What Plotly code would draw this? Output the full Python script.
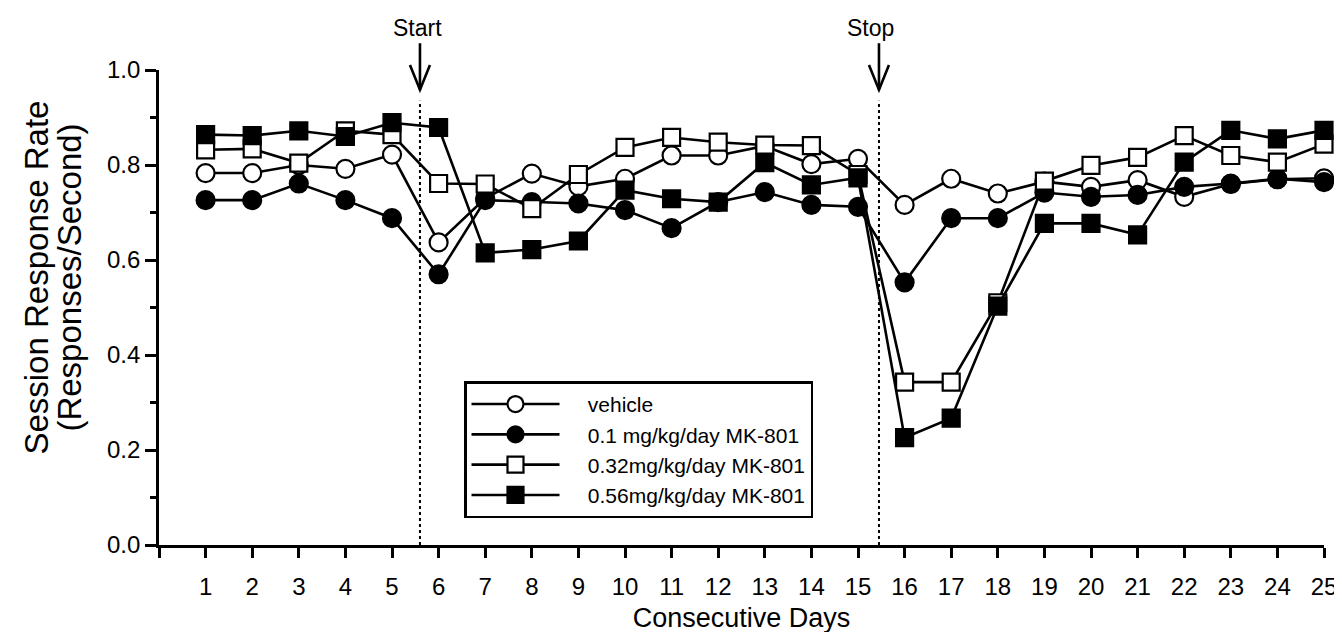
import plotly.graph_objects as go

days = list(range(1, 26))
vehicle = [0.783, 0.783, 0.80, 0.792, 0.822, 0.637, 0.73, 0.782, 0.755, 0.771, 0.82, 0.82, 0.84,
           0.802, 0.813, 0.716, 0.771, 0.740, 0.765, 0.754, 0.768, 0.733, 0.76, 0.77, 0.772]
mk_01 = [0.726, 0.726, 0.761, 0.726, 0.688, 0.57, 0.726, 0.722, 0.719, 0.705, 0.667, 0.722, 0.743,
         0.716, 0.712, 0.553, 0.688, 0.688, 0.742, 0.733, 0.737, 0.754, 0.761, 0.771, 0.764]
mk_032 = [0.832, 0.834, 0.804, 0.872, 0.864, 0.761, 0.76, 0.708, 0.78, 0.837, 0.858, 0.848, 0.842,
          0.841, 0.78, 0.343, 0.343, 0.51, 0.766, 0.799, 0.816, 0.862, 0.82, 0.806, 0.844]
mk_056 = [0.864, 0.862, 0.872, 0.86, 0.889, 0.879, 0.615, 0.622, 0.64, 0.747, 0.729, 0.722, 0.805,
          0.758, 0.773, 0.226, 0.267, 0.503, 0.677, 0.677, 0.653, 0.806, 0.873, 0.855, 0.873]

names = ["vehicle", "0.1 mg/kg/day MK-801", "0.32mg/kg/day MK-801", "0.56mg/kg/day MK-801"]
symbols = ["circle", "circle", "square", "square"]
fills = ["white", "black", "white", "black"]
series = [vehicle, mk_01, mk_032, mk_056]

x_ticks = list(range(0, 26))
x_ticktext = [""] + [str(d) for d in days]
y_ticks = [0, 0.2, 0.4, 0.6, 0.8, 1.0]
y_ticktext = ["0.0", "0.2", "0.4", "0.6", "0.8", "1.0"]
y_minor = [0.1, 0.3, 0.5, 0.7, 0.9]

start_day = 5.6
stop_day = 15.45

# layout geometry (pixels)
W, H = 1342, 632
L, R, T, B = 151, 26, 62, 91
PW, PH = W - L - R, H - T - B


def py(p):  # pixel y -> paper y
    return (H - B - p) / PH


def px(p):  # pixel x -> paper x
    return (p - L) / PW


NB = "\u00a0"

fig = go.Figure()
for name, sym, fc, ys in zip(names, symbols, fills, series):
    fig.add_trace(go.Scatter(
        x=days, y=ys, name=NB * 4 + name, mode="lines+markers",
        line=dict(color="black", width=2.6),
        marker=dict(symbol=sym, size=18 if sym == "circle" else 17, color=fc,
                    line=dict(color="black", width=2.2)),
        cliponaxis=False,
    ))

shapes = []
dx = 10 / (PW / 25)
for d in (start_day, stop_day):
    shapes.append(dict(type="line", xref="x", yref="paper", x0=d, x1=d, y0=0, y1=py(93),
                       line=dict(color="black", width=2, dash="dot")))
    shapes.append(dict(type="line", xref="x", yref="paper", x0=d, x1=d, y0=py(82), y1=py(35),
                       line=dict(color="black", width=2.6)))
    shapes.append(dict(type="path", xref="x", yref="paper",
                       path=f"M {d - dx},{py(57)} L {d},{py(82)} L {d + dx},{py(57)}",
                       line=dict(color="black", width=2.6)))

annotations = [
    dict(text="Start", x=start_day, y=py(20), xref="x", yref="paper", showarrow=False,
         font=dict(size=23, color="black"), yanchor="middle", xanchor="center", xshift=-2),
    dict(text="Stop", x=stop_day, y=py(20), xref="x", yref="paper", showarrow=False,
         font=dict(size=23, color="black"), yanchor="middle", xanchor="center", xshift=-8),
    dict(text="Session Response Rate", x=px(29), y=0.563, xref="paper", yref="paper",
         showarrow=False, textangle=-90, font=dict(size=33, color="black"),
         xanchor="center", yanchor="middle"),
    dict(text="(Responses/Second)", x=px(62), y=0.563, xref="paper", yref="paper",
         showarrow=False, textangle=-90, font=dict(size=33, color="black"),
         xanchor="center", yanchor="middle"),
]

fig.update_layout(
    width=W, height=H,
    margin=dict(l=L, r=R, t=T, b=B),
    paper_bgcolor="white", plot_bgcolor="white",
    font=dict(family="Liberation Sans, Arial, sans-serif", color="black"),
    showlegend=True,
    legend=dict(x=px(456), y=py(376), xanchor="left", yanchor="top",
                bgcolor="white", bordercolor="black", borderwidth=2.5,
                font=dict(size=21), itemwidth=88, tracegroupgap=0),
    shapes=shapes, annotations=annotations,
    xaxis=dict(range=[0, 25], tickmode="array", tickvals=x_ticks, ticktext=x_ticktext,
               ticks="outside", ticklen=10, tickwidth=2.5, tickcolor="black",
               showline=True, linecolor="black", linewidth=2.6,
               showgrid=False, zeroline=False, tickfont=dict(size=24),
               ticklabelstandoff=8,
               title=dict(text="Consecutive Days", font=dict(size=27), standoff=10)),
    yaxis=dict(range=[0, 1], tickmode="array", tickvals=y_ticks, ticktext=y_ticktext,
               ticks="outside", ticklen=11, tickwidth=2.5, tickcolor="black",
               minor=dict(tickvals=y_minor, ticks="outside", ticklen=6,
                          tickwidth=2.5, tickcolor="black", showgrid=False),
               showline=True, linecolor="black", linewidth=2.6,
               showgrid=False, zeroline=False, tickfont=dict(size=24)),
)

fig.write_html("out.html")
